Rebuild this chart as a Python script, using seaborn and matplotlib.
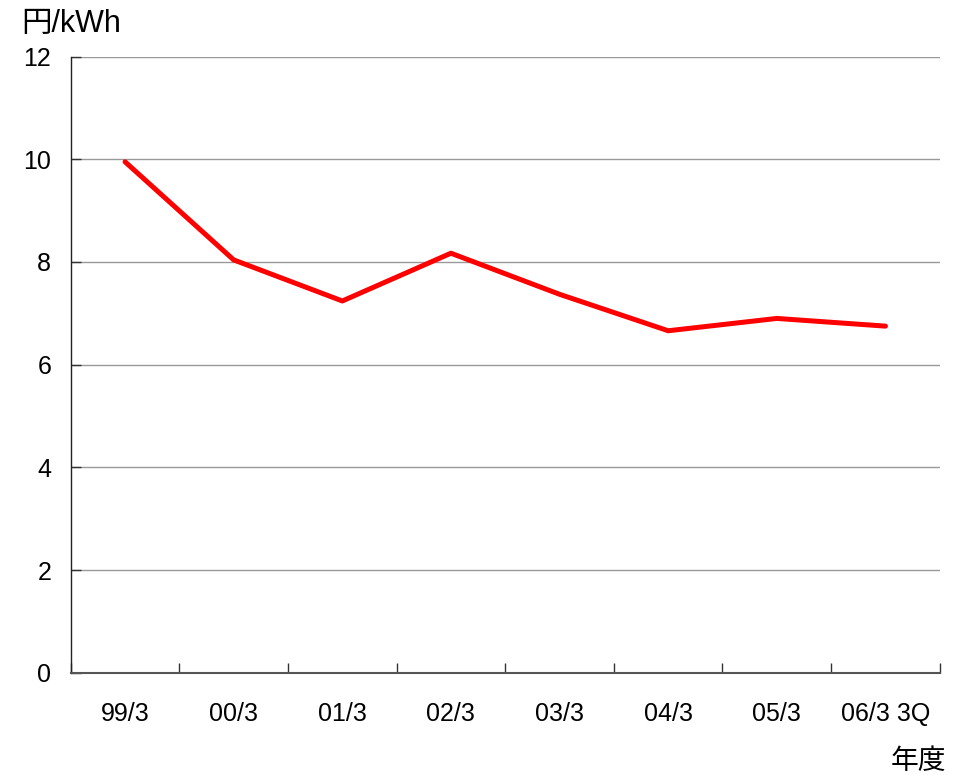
import matplotlib
matplotlib.use("Agg")
import matplotlib.pyplot as plt
from matplotlib.ticker import FixedLocator
import seaborn as sns
import pandas as pd

# Unit cost per fiscal year
periods = ["99/3", "00/3", "01/3", "02/3", "03/3", "04/3", "05/3", "06/3 3Q"]
cost_yen_per_kwh = [9.95, 8.04, 7.24, 8.17, 7.37, 6.66, 6.90, 6.75]
y_ticks = [0, 2, 4, 6, 8, 10, 12]

sns.set_theme(style="white")
plt.rcParams["font.family"] = ["Liberation Sans", "Noto Sans CJK JP", "DejaVu Sans"]
plt.rcParams["text.color"] = "black"

df = pd.DataFrame({"period": periods, "cost": cost_yen_per_kwh})

fig = plt.figure(figsize=(9.56, 7.75), dpi=100)
ax = fig.add_axes([0.074, 0.132, 0.909, 0.795])

sns.lineplot(data=df, x="period", y="cost", ax=ax, color="#ff0000",
             linewidth=3.6, sort=False)

ax.set_xlim(-0.5, len(periods) - 0.5)
ax.set_ylim(0, 12)
ax.set_yticks(y_ticks)
ax.yaxis.grid(True, color="#999999", linewidth=1.0)
ax.set_axisbelow(True)

ax.set_xticks(range(len(periods)))
ax.set_xticklabels(periods)
ax.xaxis.set_minor_locator(FixedLocator([i - 0.5 for i in range(len(periods) + 1)]))
ax.tick_params(axis="x", which="major", length=0, pad=21, labelsize=18,
               labelcolor="black")
ax.tick_params(axis="x", which="minor", direction="in", length=7, width=1.0,
               color="#333333", bottom=True)
ax.tick_params(axis="y", which="major", direction="in", length=7, width=1.0,
               color="#333333", left=True, pad=14, labelsize=18, labelcolor="black")

for side in ("top", "right"):
    ax.spines[side].set_visible(False)
ax.spines["left"].set_color("#222222")
ax.spines["left"].set_linewidth(1.0)
ax.spines["bottom"].set_color("#555555")
ax.spines["bottom"].set_linewidth(1.5)

ax.set_xlabel("")
ax.set_ylabel("")

fig.text(21 / 956, 1 - 24 / 775, "円/kWh", ha="left", va="center", fontsize=22,
         color="black")
fig.text(946 / 956, 1 - 762 / 775, "年度", ha="right", va="center", fontsize=20,
         color="black")

fig.savefig("out.png", dpi=100, facecolor="white")
